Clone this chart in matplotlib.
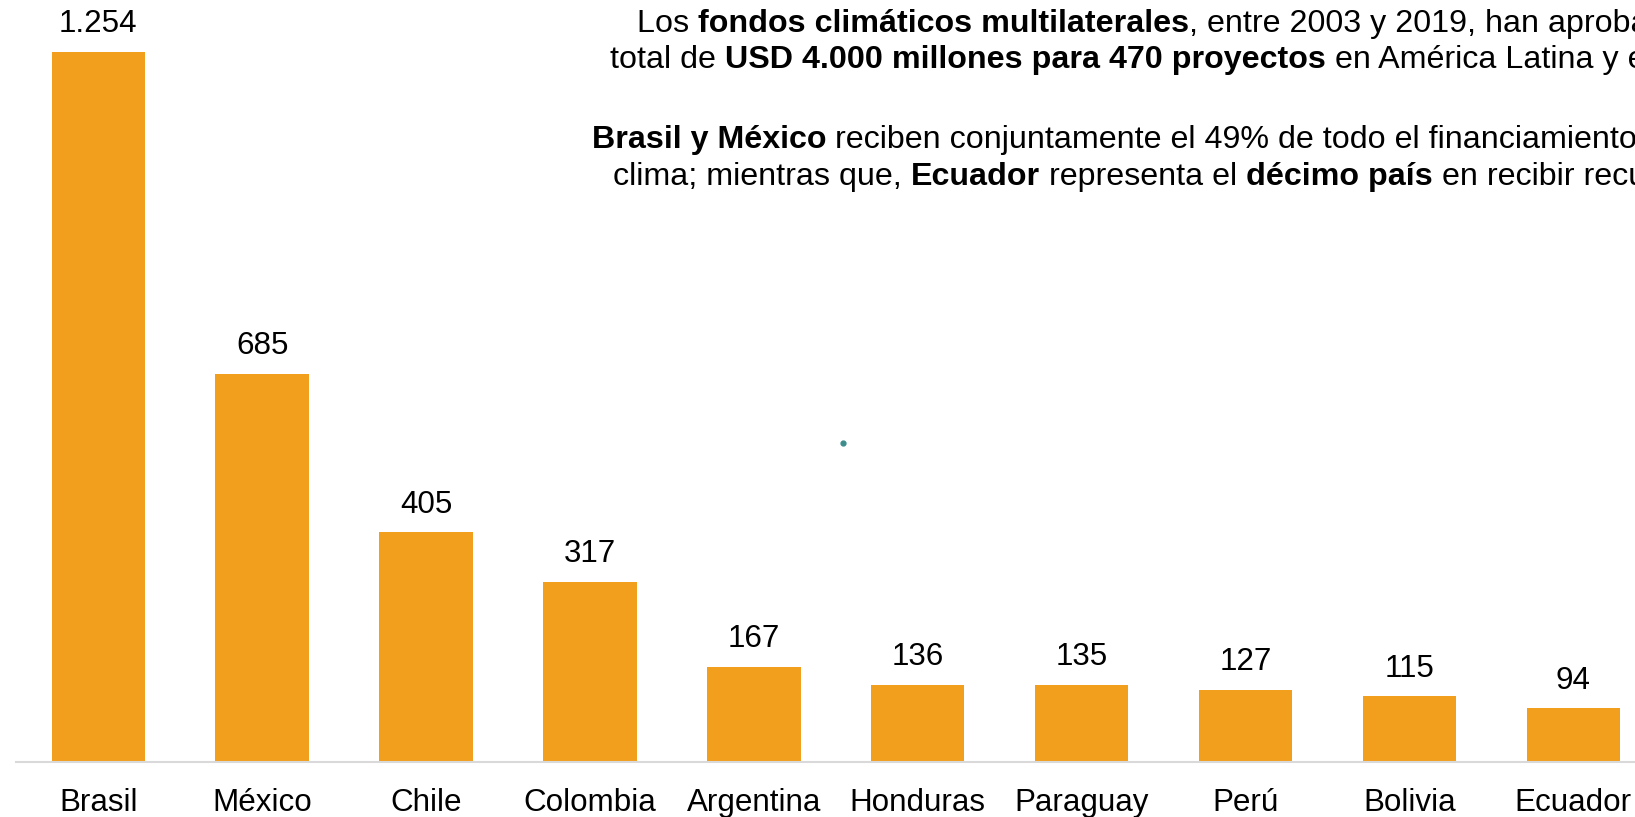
import matplotlib
matplotlib.use("Agg")
import matplotlib.pyplot as plt
from matplotlib.transforms import IdentityTransform

plt.rcParams['font.family'] = ['Liberation Sans', 'DejaVu Sans']

paises = ["Brasil", "México", "Chile", "Colombia", "Argentina",
          "Honduras", "Paraguay", "Perú", "Bolivia", "Ecuador"]
montos = [1254, 685, 405, 317, 167, 136, 135, 127, 115, 94]

# texto de la esquina superior (pieza, negrita)
lineas = [
    [("Los ", False), ("fondos climáticos multilaterales", True),
     (", entre 2003 y 2019, han aprobado un", False)],
    [("total de ", False), ("USD 4.000 millones para 470 proyectos", True),
     (" en América Latina y el Caribe.", False)],
    [("Brasil y México", True),
     (" reciben conjuntamente el 49% de todo el financiamiento para el", False)],
    [("clima; mientras que, ", False), ("Ecuador", True),
     (" representa el ", False), ("décimo país", True),
     (" en recibir recursos.", False)],
]
inicio_x = [636.7, 610, 591.7, 613]
base_y = [31.7, 68.3, 148.3, 185]

naranja = "#F29F1D"
fs = 22.6
fs_texto = 23.2

W, H = 1635, 817
fig = plt.figure(figsize=(W / 100, H / 100), dpi=100)
ax = fig.add_axes([16.3 / W, (H - 761.5) / H, 10 * 163.9 / W, 761.5 / H])

x = range(len(paises))
bars = ax.bar(x, montos, width=0.57, color=naranja, zorder=2)
ax.set_xlim(-0.5, 9.5)
ax.set_ylim(0, 761.5 / 0.566)

for xi, v in zip(x, montos):
    ax.annotate(f"{v:,}".replace(",", "."), (xi, v), xytext=(0, 14.2),
                textcoords="offset points", ha="center", va="baseline",
                fontsize=fs, color="black")

ax.set_xticks(list(x))
ax.set_xticklabels(paises, fontsize=fs)
ax.tick_params(axis="x", length=0, pad=19.4)
ax.set_yticks([])
for s in ["top", "left", "right"]:
    ax.spines[s].set_visible(False)
ax.spines["bottom"].set_color("#d9d9d9")
ax.spines["bottom"].set_linewidth(1.5)

# texto con partes en negrita, colocado pieza por pieza
renderer = fig.canvas.get_renderer()


def ancho(s, bold):
    w = "bold" if bold else "normal"
    t1 = fig.text(0, 0, "x" + s + "x", fontsize=fs_texto, fontweight=w)
    t2 = fig.text(0, 0, "xx", fontsize=fs_texto, fontweight=w)
    a = t1.get_window_extent(renderer).width - t2.get_window_extent(renderer).width
    t1.remove()
    t2.remove()
    return a


for piezas, x0, y0 in zip(lineas, inicio_x, base_y):
    xp = x0
    for s, b in piezas:
        fig.text(xp, H - y0, s, transform=IdentityTransform(), fontsize=fs_texto,
                 fontweight="bold" if b else "normal", ha="left", va="baseline")
        xp += ancho(s, b)

# punto pequeño en el centro
fig.add_artist(plt.Line2D([842.5 / W], [(H - 443) / H], marker="o", markersize=3.5,
                          color="#3d8c8c", transform=fig.transFigure))

fig.savefig("out.png", dpi=100)
